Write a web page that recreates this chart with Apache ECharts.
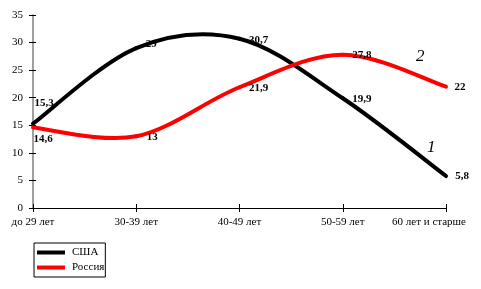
<!DOCTYPE html>
<html><head><meta charset="utf-8">
<script src="https://cdn.jsdelivr.net/npm/echarts@6/dist/echarts.min.js"></script>
<style>html,body{margin:0;padding:0;background:#fff}#c{width:481px;height:289px}</style>
</head><body><div id="c"></div>
<script>
const categories = ['до 29 лет', '30-39 лет', '40-49 лет', '50-59 лет', '60 лет и старше'];
const usa = [15.3, 29, 30.7, 19.9, 5.8];
const russia = [14.6, 13, 21.9, 27.8, 22];
const yTicks = [0, 5, 10, 15, 20, 25, 30, 35];
const usaLabelOffsets = [[11, -20], [15, -4], [19, 1], [19, 1], [16, 0]];
const rusLabelOffsets = [[10, 12], [16, 1], [19, 1], [19, 0], [14, 0]];

const font = 'Liberation Serif';
function fmt(v){ return String(v).replace('.', ','); }
function mk(vals, offs){
  return vals.map((v,i)=>({value:v, label:{offset:offs[i]}}));
}
// smooth curve (Catmull-Rom like spreadsheet smoothing) through library coords
function curveSeries(name, vals, color, z){
  return {
    name:name, type:'custom', z:z, silent:true,
    data: vals.map((v,i)=>[i, v]),
    encode:{x:0, y:1},
    renderItem:function(params, api){
      const i = params.dataIndex;
      if (i >= vals.length - 1) return null;
      const P = vals.map((v,k)=>api.coord([k, v]));
      const p0 = P[Math.max(i-1,0)], p1 = P[i], p2 = P[i+1], p3 = P[Math.min(i+2, P.length-1)];
      const c1 = [p1[0] + (p2[0]-p0[0])/6, p1[1] + (p2[1]-p0[1])/6];
      const c2 = [p2[0] - (p3[0]-p1[0])/6, p2[1] - (p3[1]-p1[1])/6];
      return {
        type:'bezierCurve',
        shape:{x1:p1[0], y1:p1[1], x2:p2[0], y2:p2[1], cpx1:c1[0], cpy1:c1[1], cpx2:c2[0], cpy2:c2[1]},
        style:{stroke:color, lineWidth:4, fill:null, lineCap:'round'}
      };
    }
  };
}
const chart = echarts.init(document.getElementById('c'));
chart.setOption({
  animation:false,
  backgroundColor:'#fff',
  grid:{left:33, right:35, top:15, bottom:81, containLabel:false},
  xAxis:[{
    type:'category', data:categories, boundaryGap:false,
    axisLine:{lineStyle:{color:'#000', width:1}},
    axisTick:{show:true, length:4, interval:0, lineStyle:{color:'#000'}},
    axisLabel:{color:'#000', fontFamily:font, fontSize:11, margin:9, interval:0,
      formatter:(v,i)=> i===categories.length-1 ? '{a|'+v+'}' : v,
      rich:{a:{fontFamily:font, fontSize:11, color:'#000', padding:[0,34,0,0]}}}
  },{
    type:'category', data:categories, boundaryGap:false, position:'bottom',
    axisLine:{show:false},
    axisTick:{show:true, inside:true, length:4, interval:0, lineStyle:{color:'#000'}},
    axisLabel:{show:false}
  }],
  yAxis:[{
    type:'value', min:yTicks[0], max:yTicks[yTicks.length-1], interval:5,
    splitLine:{show:false},
    axisLine:{show:true, lineStyle:{color:'#808080', width:1.5}},
    axisTick:{show:true, length:4, lineStyle:{color:'#000'}},
    axisLabel:{color:'#000', fontFamily:font, fontSize:11, margin:10}
  },{
    type:'value', min:yTicks[0], max:yTicks[yTicks.length-1], interval:5, position:'left',
    splitLine:{show:false}, axisLine:{show:false},
    axisTick:{show:true, inside:true, length:3, lineStyle:{color:'#000'}},
    axisLabel:{show:false}
  }],
  legend:{
    left:34, top:243, orient:'vertical',
    data:[{name:'США', itemStyle:{color:'#000'}},{name:'Россия', itemStyle:{color:'#ff0000'}}],
    icon:'rect', itemWidth:28, itemHeight:4, itemGap:4,
    padding:[4,1,4,3],
    borderColor:'#000', borderWidth:1,
    textStyle:{fontFamily:font, fontSize:11, color:'#000', padding:[0,0,0,2]}
  },
  series:[
    curveSeries('США', usa, '#000', 2),
    curveSeries('Россия', russia, '#ff0000', 3),
  {
    name:'США', type:'line', data:mk(usa, usaLabelOffsets), z:5,
    symbol:'circle', symbolSize:0, showSymbol:true,
    lineStyle:{opacity:0}, itemStyle:{color:'#000'},
    label:{show:true, position:'inside', color:'#000', fontFamily:font, fontSize:11, fontWeight:'bold',
      formatter:p=>fmt(p.value)}
  },{
    name:'Россия', type:'line', data:mk(russia, rusLabelOffsets), z:5,
    symbol:'circle', symbolSize:0, showSymbol:true,
    lineStyle:{opacity:0}, itemStyle:{color:'#ff0000'},
    label:{show:true, position:'inside', color:'#000', fontFamily:font, fontSize:11, fontWeight:'bold',
      formatter:p=>fmt(p.value)}
  }],
  graphic:[
    {type:'text', left:416, top:48, style:{text:'2', fontFamily:font, fontStyle:'italic', fontSize:17, fill:'#000'}},
    {type:'text', left:427, top:139, style:{text:'1', fontFamily:font, fontStyle:'italic', fontSize:17, fill:'#000'}}
  ]
});
</script></body></html>
